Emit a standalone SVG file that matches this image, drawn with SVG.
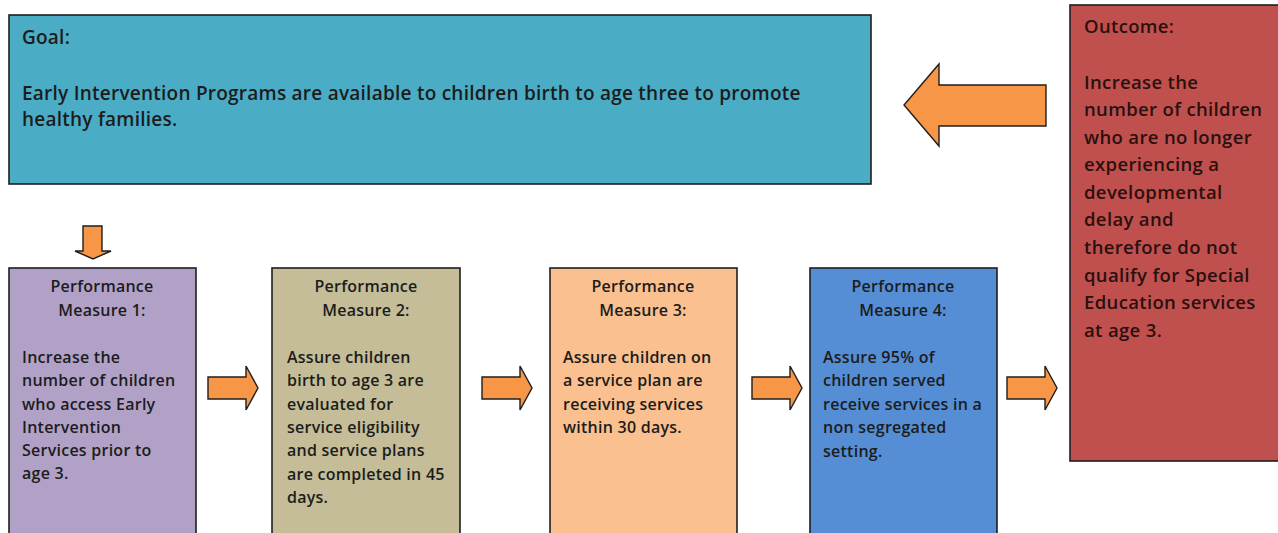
<svg xmlns="http://www.w3.org/2000/svg" width="1278" height="533" viewBox="0 0 1278 533">
<style>
.box{stroke:#1e1e1e;stroke-width:1.6}
.arr{fill:#F79646;stroke:#1e1e1e;stroke-width:1.4;stroke-linejoin:miter}
text{font-family:"Open Sans",Lato,"Liberation Sans",sans-serif;font-weight:600;fill:#1c1c1c}
.g{font-size:19px;letter-spacing:0.24px}
.o{font-size:18.5px;letter-spacing:0.35px;fill:#2a1010}
.p{font-size:16px;letter-spacing:0.25px}
.c{text-anchor:middle}
</style>
<rect width="1278" height="533" fill="#ffffff"/>
<g id="goal">
<rect class="box" x="9" y="15" width="862" height="169" fill="#4BACC6"/>
<text class="g" x="22" y="44">Goal:</text>
<text class="g" x="22" y="100">Early Intervention Programs are available to children birth to age three to promote</text>
<text class="g" x="22" y="126">healthy families.</text>
</g>
<g id="outcome">
<rect class="box" x="1070" y="5" width="210" height="456" fill="#C0504D"/>
<text class="o" x="1084" y="33">Outcome:</text>
<text class="o" x="1084" y="89">Increase the</text>
<text class="o" x="1084" y="116">number of children</text>
<text class="o" x="1084" y="144">who are no longer</text>
<text class="o" x="1084" y="171">experiencing a</text>
<text class="o" x="1084" y="199">developmental</text>
<text class="o" x="1084" y="226">delay and</text>
<text class="o" x="1084" y="254">therefore do not</text>
<text class="o" x="1084" y="282">qualify for Special</text>
<text class="o" x="1084" y="309">Education services</text>
<text class="o" x="1084" y="337">at age 3.</text>
</g>
<g id="pm1">
<rect class="box" x="9" y="268" width="187" height="280" fill="#B2A1C7"/>
<text class="p c" x="102" y="292">Performance</text>
<text class="p c" x="102" y="316">Measure 1:</text>
<text class="p" x="22" y="363">Increase the</text>
<text class="p" x="22" y="386">number of children</text>
<text class="p" x="22" y="410">who access Early</text>
<text class="p" x="22" y="433">Intervention</text>
<text class="p" x="22" y="456">Services prior to</text>
<text class="p" x="22" y="479">age 3.</text>
</g>
<g id="pm2">
<rect class="box" x="272" y="268" width="188" height="280" fill="#C4BD97"/>
<text class="p c" x="366" y="292">Performance</text>
<text class="p c" x="366" y="316">Measure 2:</text>
<text class="p" x="287" y="363">Assure children</text>
<text class="p" x="287" y="386">birth to age 3 are</text>
<text class="p" x="287" y="410">evaluated for</text>
<text class="p" x="287" y="433">service eligibility</text>
<text class="p" x="287" y="456">and service plans</text>
<text class="p" x="287" y="480">are completed in 45</text>
<text class="p" x="287" y="503">days.</text>
</g>
<g id="pm3">
<rect class="box" x="550" y="268" width="187" height="280" fill="#FAC090"/>
<text class="p c" x="643" y="292">Performance</text>
<text class="p c" x="643" y="316">Measure 3:</text>
<text class="p" x="563" y="363">Assure children on</text>
<text class="p" x="563" y="386">a service plan are</text>
<text class="p" x="563" y="410">receiving services</text>
<text class="p" x="563" y="433">within 30 days.</text>
</g>
<g id="pm4">
<rect class="box" x="810" y="268" width="187" height="280" fill="#558ED5"/>
<text class="p c" x="903" y="292">Performance</text>
<text class="p c" x="903" y="316">Measure 4:</text>
<text class="p" x="823" y="363">Assure 95% of</text>
<text class="p" x="823" y="386">children served</text>
<text class="p" x="823" y="410">receive services in a</text>
<text class="p" x="823" y="433">non segregated</text>
<text class="p" x="823" y="457">setting.</text>
</g>
<g id="connectors">
<polygon class="arr" points="1046,85 939,85 939,64 904,105 939,146 939,126 1046,126"/>
<polygon class="arr" points="83,226 102,226 102,251 111,251 93,259 75,251 83,251"/>
<polygon class="arr" points="208,377 246,377 246,366 258,388 246,410 246,399 208,399"/>
<polygon class="arr" points="482,377 520,377 520,366 532,388 520,410 520,399 482,399"/>
<polygon class="arr" points="752,377 790,377 790,366 802,388 790,410 790,399 752,399"/>
<polygon class="arr" points="1007,377 1045,377 1045,366 1057,388 1045,410 1045,399 1007,399"/>
</g>
</svg>
